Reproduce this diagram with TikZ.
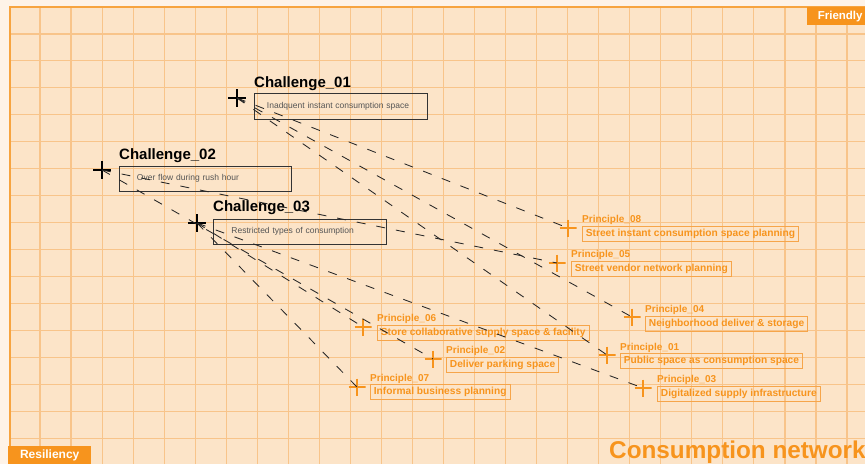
\documentclass[tikz,border=0pt]{standalone}
\usepackage{fontspec}
\setmainfont{Liberation Sans}
\usetikzlibrary{positioning}
\definecolor{cnpaper}{HTML}{FEF3E8}
\definecolor{cnpeach}{HTML}{FCE4C8}
\definecolor{cngrid}{HTML}{F8C48A}
\definecolor{cnframe}{HTML}{F7A440}
\definecolor{cnorange}{HTML}{F7941D}
\definecolor{cnlight}{HTML}{F6A54A}
\definecolor{cndark}{HTML}{333333}
\definecolor{cntext}{HTML}{555555}

\begin{document}
\begin{tikzpicture}[
  x=1pt, y=-1pt,
  gridline/.style={draw=cngrid, line width=1.1pt},
  frameline/.style={draw=cnframe, line width=2.5pt},
  link/.style={draw=black!85, line width=0.85pt, dash pattern=on 9pt off 11pt},
  chcross/.style={minimum size=18pt, inner sep=0pt, outer sep=0pt, path picture={\draw[line width=2.8pt, black] (path picture bounding box.north) -- (path picture bounding box.south) (path picture bounding box.west) -- (path picture bounding box.east);}},
  prcross/.style={minimum size=17pt, inner sep=0pt, outer sep=0pt, path picture={\draw[line width=2.8pt, cnorange] (path picture bounding box.north) -- (path picture bounding box.south) (path picture bounding box.west) -- (path picture bounding box.east);}},
  chtitle/.style={anchor=base west, inner sep=0pt, font=\fontsize{15}{15}\selectfont\bfseries},
  chbox/.style={draw=cndark, line width=0.9pt, anchor=north west, minimum height=25.5pt, align=left, text=cntext, font=\fontsize{8.5}{9}\selectfont},
  prtitle/.style={anchor=base west, inner sep=0pt, text=cnorange, font=\fontsize{10}{10}\selectfont\bfseries},
  prbox/.style={draw=cnlight, line width=0.8pt, anchor=north west, minimum height=15pt, inner xsep=3.5pt, inner ysep=0pt, text=cnorange, font=\fontsize{10.2}{10}\selectfont\bfseries},
  tab/.style={fill=cnorange, text=white, inner sep=0pt, anchor=north west, font=\bfseries},
]
\clip (0,0) rectangle (865,464);
\fill[cnpaper] (0,0) rectangle (865,464);
\fill[cnpeach] (10,7) rectangle (865,464);

% grid
\foreach \i in {0,...,26}
  \draw[gridline] ({40+31.04*\i},7) -- ({40+31.04*\i},464);
\foreach \j in {1,...,16}
  \draw[gridline] (10,{7+26.95*\j}) -- (865,{7+26.95*\j});
\draw[frameline] (10,446) -- (10,7) -- (865,7);

% corner tabs
\node[tab, minimum width=83pt, minimum height=18pt, font=\fontsize{12}{12}\selectfont\bfseries] (resil) at (8,446) {Resiliency};
\node[tab, minimum width=66pt, minimum height=18pt, font=\fontsize{11.5}{11.5}\selectfont\bfseries] (friend) at (807,7) {Friendly};
\node[anchor=base west, inner sep=0pt, text=cnorange, font=\fontsize{24.3}{25}\selectfont\bfseries] (netname) at (609,458) {Consumption network};

% Challenges
\node[chcross] (c1) at (237,98) {};
\node[chcross] (c2) at (102,170) {};
\node[chcross] (c3) at (197,223) {};

\node[chtitle] (c1t) at (254,87) {Challenge\_01};
\node[chtitle] (c2t) at (119,159) {Challenge\_02};
\node[chtitle] (c3t) at (213,211) {Challenge\_03};

\node[chbox, inner xsep=12.5pt, text width=148pt] (c1b) at (254,93) {Inadquent instant consumption space};
\node[chbox, inner xsep=17.5pt, text width=137pt] (c2b) at (119,165.5) {Over flow during rush hour};
\node[chbox, inner xsep=18pt, text width=136.5pt] (c3b) at (213,218.5) {Restricted types of consumption};

% Principles
\node[prcross] (p8) at (568,228) {};
\node[prcross] (p5) at (557,263) {};
\node[prcross] (p4) at (632,317) {};
\node[prcross] (p6) at (363,327) {};
\node[prcross] (p1) at (607,355) {};
\node[prcross] (p2) at (433,359) {};
\node[prcross] (p7) at (357,387) {};
\node[prcross] (p3) at (643,388) {};

\node[prtitle] (p8t) at (582,222) {Principle\_08};
\node[prbox] (p8b) at (582,226) {Street instant consumption space planning};
\node[prtitle] (p5t) at (571,257) {Principle\_05};
\node[prbox] (p5b) at (571,261) {Street vendor network planning};
\node[prtitle] (p4t) at (645,312) {Principle\_04};
\node[prbox] (p4b) at (645,316) {Neighborhood deliver \& storage};
\node[prtitle] (p6t) at (377,321) {Principle\_06};
\node[prbox] (p6b) at (377,325) {Store collaborative supply space \& facility};
\node[prtitle] (p1t) at (620,350) {Principle\_01};
\node[prbox] (p1b) at (620,353) {Public space as consumption space};
\node[prtitle] (p2t) at (446,353) {Principle\_02};
\node[prbox] (p2b) at (446,357) {Deliver parking space};
\node[prtitle] (p7t) at (370,381) {Principle\_07};
\node[prbox] (p7b) at (370,384) {Informal business planning};
\node[prtitle] (p3t) at (657,382) {Principle\_03};
\node[prbox] (p3b) at (657,386) {Digitalized supply infrastructure};

% links
\draw[link] (c1.center) -- (p8.center);
\draw[link] (c1.center) -- (p4.center);
\draw[link] (c1.center) -- (p1.center);
\draw[link] (c2.center) -- (p5.center);
\draw[link] (c2.center) -- (p2.center);
\draw[link] (c3.center) -- (p6.center);
\draw[link] (c3.center) -- (p7.center);
\draw[link] (c3.center) -- (p3.center);

\end{tikzpicture}
\end{document}
